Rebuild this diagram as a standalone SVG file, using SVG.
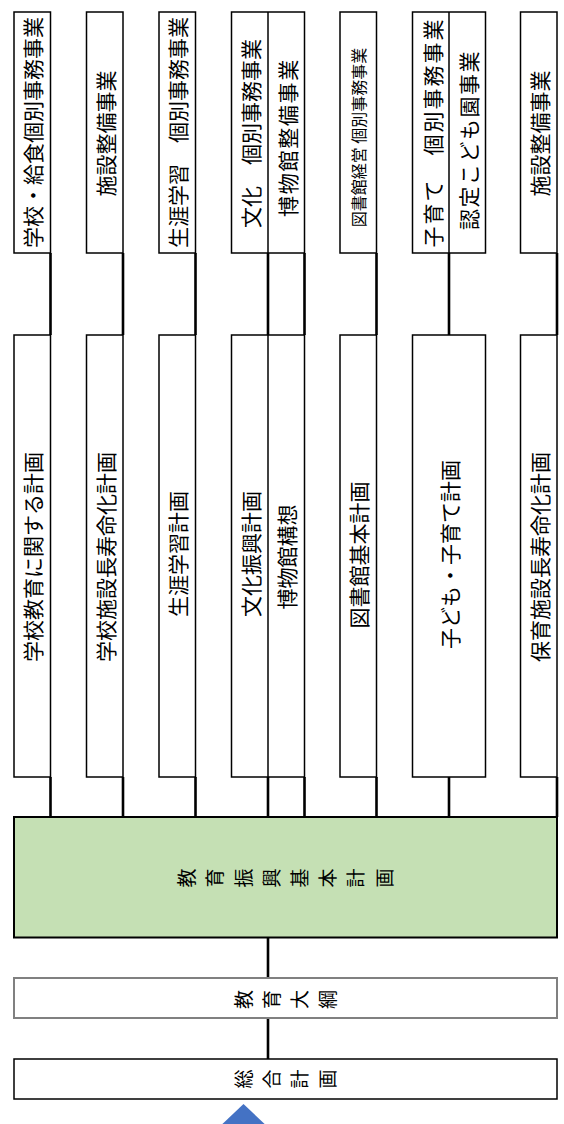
<svg xmlns="http://www.w3.org/2000/svg" width="564" height="1124" viewBox="0 0 564 1124">
<style>
.box{fill:#fff;stroke:#000;stroke-width:1.5}
.gbox{fill:#C5E0B4;stroke:#000;stroke-width:2}
.graybox{fill:#fff;stroke:#808080;stroke-width:2}
.conn{stroke:#000;stroke-width:2.6;fill:none}
.t{font-family:"Noto Sans CJK JP","Noto Sans CJK SC",sans-serif;font-size:21px;fill:#000;text-anchor:middle;dominant-baseline:central}
.s{font-size:16px}
.c{font-size:19px}
</style>
<rect width="564" height="1124" fill="#fff"/>
<g id="connectors">
<path class="conn" d="M50.5,253V335M123,253V335M195.5,253V335M268,253V335M304.5,253V335M376.5,253V335M449,253V335M557,253V335"/>
<path class="conn" d="M50.5,777V817M123,777V817M195.5,777V817M268,777V817M304.5,777V817M376.5,777V817M449,777V817M557,777V817"/>
<path class="conn" d="M268,937.5V978M268,1018V1059"/>
</g>
<g id="r1-school">
<rect class="box" x="14" y="12" width="36.5" height="241"/>
<text class="t" transform="translate(32.25,132.5) rotate(-90)">学校・給食個別事務事業</text>
</g>
<g id="r1-facility">
<rect class="box" x="86.5" y="12" width="36.5" height="241"/>
<text class="t" transform="translate(104.75,133.5) rotate(-90)">施設整備事業</text>
</g>
<g id="r1-lifelong">
<rect class="box" x="159" y="12" width="36.5" height="241"/>
<text class="t" transform="translate(177.25,132.5) rotate(-90)">生涯学習　個別事務事業</text>
</g>
<g id="r1-culture">
<rect class="box" x="231.5" y="12" width="73" height="241"/>
<line x1="268" y1="12" x2="268" y2="253" stroke="#000" stroke-width="1.5"/>
<text class="t" transform="translate(249.75,133.5) rotate(-90)">文化　個別事務事業</text>
<text class="t" letter-spacing="1.7" transform="translate(287,137.5) rotate(-90)">博物館整備事業</text>
</g>
<g id="r1-library">
<rect class="box" x="340" y="12" width="36.5" height="241"/>
<text class="t s" transform="translate(358.25,137.5) rotate(-90)">図書館経営 個別事務事業</text>
</g>
<g id="r1-child">
<rect class="box" x="412.5" y="12" width="73" height="241"/>
<line x1="449" y1="12" x2="449" y2="253" stroke="#000" stroke-width="1.5"/>
<text class="t" letter-spacing="2" transform="translate(431.5,132.5) rotate(-90)">子育て　個別事務事業</text>
<text class="t" letter-spacing="1.5" transform="translate(468,140) rotate(-90)">認定こども園事業</text>
</g>
<g id="r1-nursery">
<rect class="box" x="520.5" y="12" width="36.5" height="241"/>
<text class="t" transform="translate(538.75,133.5) rotate(-90)">施設整備事業</text>
</g>
<g id="r2-school">
<rect class="box" x="14" y="335" width="36.5" height="442"/>
<text class="t" transform="translate(32.25,557) rotate(-90)">学校教育に関する計画</text>
</g>
<g id="r2-facility">
<rect class="box" x="86.5" y="335" width="36.5" height="442"/>
<text class="t" transform="translate(104.75,557) rotate(-90)">学校施設長寿命化計画</text>
</g>
<g id="r2-lifelong">
<rect class="box" x="159" y="335" width="36.5" height="442"/>
<text class="t" transform="translate(177.25,554) rotate(-90)">生涯学習計画</text>
</g>
<g id="r2-culture">
<rect class="box" x="231.5" y="335" width="73" height="442"/>
<line x1="268" y1="335" x2="268" y2="777" stroke="#000" stroke-width="1.5"/>
<text class="t" transform="translate(249.75,554) rotate(-90)">文化振興計画</text>
<text class="t" transform="translate(286.25,557) rotate(-90)">博物館構想</text>
</g>
<g id="r2-library">
<rect class="box" x="340" y="335" width="36.5" height="442"/>
<text class="t" transform="translate(358.25,555) rotate(-90)">図書館基本計画</text>
</g>
<g id="r2-child">
<rect class="box" x="412.5" y="335" width="73" height="442"/>
<text class="t" transform="translate(449,554.5) rotate(-90)">子ども・子育て計画</text>
</g>
<g id="r2-nursery">
<rect class="box" x="520.5" y="335" width="36.5" height="442"/>
<text class="t" transform="translate(538.75,557) rotate(-90)">保育施設長寿命化計画</text>
</g>
<g id="basic-plan">
<rect class="gbox" x="14" y="817" width="543" height="120.5"/>
<g class="t c">
<text transform="translate(185,878) rotate(-90)">教</text>
<text transform="translate(213.5,878) rotate(-90)">育</text>
<text transform="translate(242,878) rotate(-90)">振</text>
<text transform="translate(270.5,878) rotate(-90)">興</text>
<text transform="translate(298.5,878) rotate(-90)">基</text>
<text transform="translate(326.5,878) rotate(-90)">本</text>
<text transform="translate(354.5,878) rotate(-90)">計</text>
<text transform="translate(383,878) rotate(-90)">画</text>
</g>
</g>
<g id="outline">
<rect class="graybox" x="14" y="978" width="543" height="40"/>
<g class="t c">
<text transform="translate(242.5,999.5) rotate(-90)">教</text>
<text transform="translate(270.5,999.5) rotate(-90)">育</text>
<text transform="translate(298.5,999.5) rotate(-90)">大</text>
<text transform="translate(326.5,999.5) rotate(-90)">綱</text>
</g>
</g>
<g id="general-plan">
<rect class="box" x="14" y="1059" width="543" height="40" stroke-width="2"/>
<g class="t c">
<text transform="translate(242.5,1079) rotate(-90)">総</text>
<text transform="translate(270.5,1079) rotate(-90)">合</text>
<text transform="translate(298.5,1079) rotate(-90)">計</text>
<text transform="translate(326.5,1079) rotate(-90)">画</text>
</g>
</g>
<g id="arrow">
<polygon points="243.5,1104 215,1131 272,1131" fill="#4472C4"/>
</g>
</svg>
